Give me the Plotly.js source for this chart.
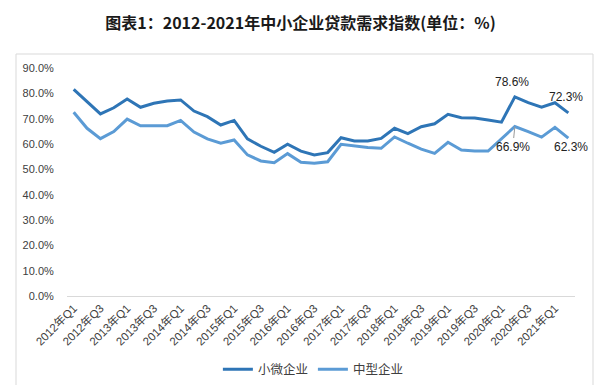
<!DOCTYPE html>
<html>
<head>
<meta charset="utf-8">
<script src="https://cdn.plot.ly/plotly-3.0.1.min.js"></script>
<style>
html,body{margin:0;padding:0;background:#fff;}
#chart{width:601px;height:385px;}
</style>
</head>
<body>
<div id="chart"></div>
<script>
// Quarters 2012Q1 .. 2021Q2
const quarters = [
  "2012年Q1","2012年Q2","2012年Q3","2012年Q4",
  "2013年Q1","2013年Q2","2013年Q3","2013年Q4",
  "2014年Q1","2014年Q2","2014年Q3","2014年Q4",
  "2015年Q1","2015年Q2","2015年Q3","2015年Q4",
  "2016年Q1","2016年Q2","2016年Q3","2016年Q4",
  "2017年Q1","2017年Q2","2017年Q3","2017年Q4",
  "2018年Q1","2018年Q2","2018年Q3","2018年Q4",
  "2019年Q1","2019年Q2","2019年Q3","2019年Q4",
  "2020年Q1","2020年Q2","2020年Q3","2020年Q4",
  "2021年Q1","2021年Q2"
];
const tickLabels = quarters.filter((q, i) => i % 2 === 0);

const smallMicro = [
  81.6, 76.7, 71.9, 74.3, 77.8, 74.5, 76.1, 77.0,
  77.4, 73.0, 70.8, 67.5, 69.3, 62.0, 59.1, 56.7,
  59.9, 57.2, 55.7, 56.6, 62.5, 61.2, 61.2, 62.2,
  66.2, 64.1, 66.8, 68.0, 71.7, 70.4, 70.3, 69.5,
  68.6, 78.6, 76.3, 74.5, 76.3, 72.3
];
const medium = [
  72.5, 66.2, 62.1, 64.9, 69.8, 67.2, 67.2, 67.2,
  69.3, 64.7, 62.0, 60.3, 61.6, 55.7, 53.3, 52.6,
  56.2, 52.8, 52.4, 53.0, 59.9, 59.3, 58.6, 58.3,
  62.8, 60.3, 58.0, 56.3, 60.7, 57.6, 57.2, 57.2,
  62.0, 66.9, 64.9, 62.7, 66.6, 62.3
];
const seriesNames = ["小微企业", "中型企业"];
const seriesColors = ["#2e75b6", "#5b9bd5"];

const font = "'Liberation Sans', 'Noto Sans CJK SC', sans-serif";

const traces = [
  {x: quarters, y: smallMicro, name: seriesNames[0], type: "scatter", mode: "lines",
   line: {color: seriesColors[0], width: 3}},
  {x: quarters, y: medium, name: seriesNames[1], type: "scatter", mode: "lines",
   line: {color: seriesColors[1], width: 3}}
];

const iPeak = 33, iLast = quarters.length - 1;
const annFont = {family: font, size: 12, color: "#222"};
const annotations = [
  {x: quarters[iPeak], y: smallMicro[iPeak], text: smallMicro[iPeak].toFixed(1) + "%",
   showarrow: false, xshift: -3, yshift: 15, font: annFont},
  {x: quarters[iLast], y: smallMicro[iLast], text: smallMicro[iLast].toFixed(1) + "%",
   showarrow: false, xshift: -2, yshift: 16, font: annFont},
  {x: quarters[iPeak], y: medium[iPeak], text: medium[iPeak].toFixed(1) + "%",
   showarrow: true, arrowhead: 0, arrowwidth: 1, arrowcolor: "#999", ax: -2, ay: 20,
   standoff: 0, font: annFont},
  {x: quarters[iLast], y: medium[iLast], text: medium[iLast].toFixed(1) + "%",
   showarrow: false, xshift: 3, yshift: -9, font: annFont}
];

const layout = {
  width: 601, height: 385,
  margin: {l: 67, r: 26, t: 68, b: 89, autoexpand: false},
  paper_bgcolor: "#fff", plot_bgcolor: "#fff",
  font: {family: font, color: "#404040"},
  title: {text: "<b>图表1：2012-2021年中小企业贷款需求指数(单位：%)</b>",
          font: {family: "'Noto Sans CJK SC', sans-serif", size: 16, color: "#1a1a1a"},
          x: 0.5, xanchor: "center", y: 0.94, yanchor: "middle"},
  xaxis: {type: "category", categoryorder: "array", categoryarray: quarters,
          range: [-0.5, quarters.length - 0.5],
          tickmode: "array", tickvals: tickLabels, ticktext: tickLabels,
          tickangle: -45, tickfont: {size: 11.5, color: "#404040", family: font},
          showgrid: false, showline: true, linecolor: "#d9d9d9", linewidth: 1,
          ticks: "", zeroline: false, fixedrange: true, automargin: false},
  yaxis: {range: [0, 90], tickmode: "linear", tick0: 0, dtick: 10,
          ticksuffix: "%", tickformat: ".1f",
          tickfont: {size: 11, color: "#404040", family: font},
          showgrid: false, zeroline: false, showline: false, automargin: false,
          ticks: "outside", ticklen: 10, tickcolor: "rgba(0,0,0,0)", fixedrange: true},
  showlegend: true,
  legend: {orientation: "h", x: 0.485, xanchor: "center", yref: "container", y: 0.04, yanchor: "middle",
           font: {size: 12.5, color: "#404040", family: "'Noto Sans CJK SC', sans-serif"},
           itemwidth: 30, tracegroupgap: 0},
  annotations: annotations,
  shapes: [
    {type: "rect", xref: "paper", yref: "paper",
     x0: -51 / 508, x1: 1 + 18 / 508, y0: -0.5, y1: 1 + 14 / 228,
     line: {color: "#d9d9d9", width: 1}, fillcolor: "rgba(0,0,0,0)", layer: "below"}
  ]
};

Plotly.newPlot("chart", traces, layout, {displayModeBar: false, staticPlot: true});
</script>
</body>
</html>
